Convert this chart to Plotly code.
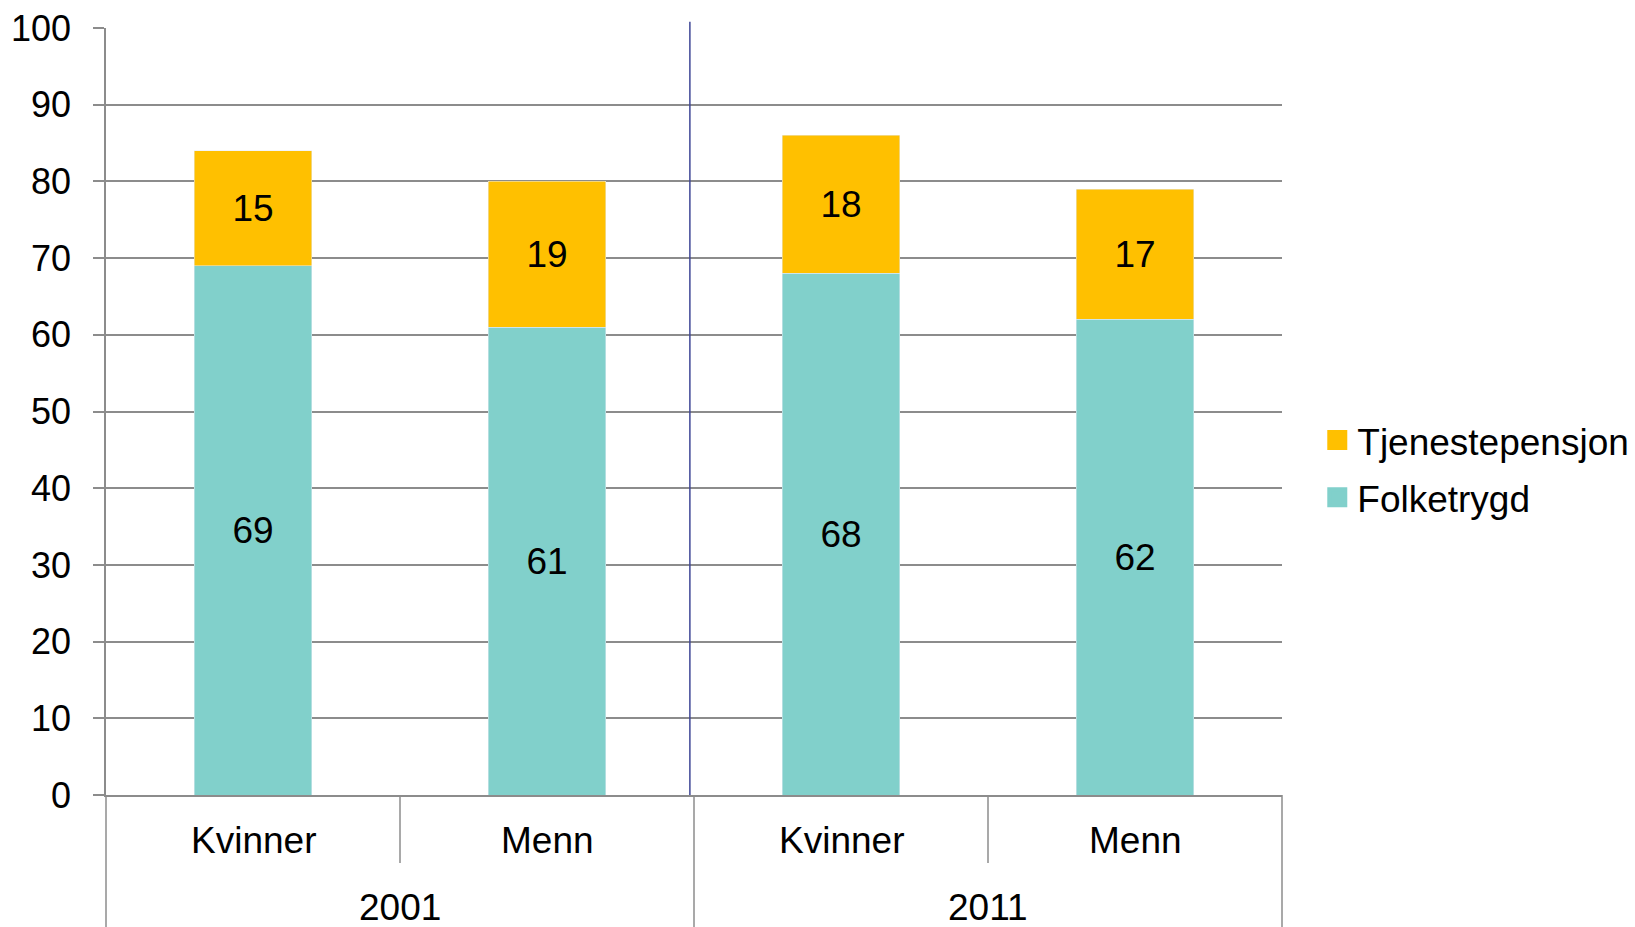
import plotly.graph_objects as go

years = ["2001", "2001", "2011", "2011"]
groups = ["Kvinner", "Menn", "Kvinner", "Menn"]
folketrygd = [69, 61, 68, 62]
tjenestepensjon = [15, 19, 18, 17]
y_ticks = [0, 10, 20, 30, 40, 50, 60, 70, 80, 90, 100]

TEAL = "#81D0CB"
ORANGE = "#FFC000"
GRID = "#8C8C8C"
BLUE = "#3F4796"
FONT = "Liberation Sans, Arial, sans-serif"
FS = 37

x = [years, groups]
n = len(groups)

fig = go.Figure()
for name, vals, col in [("Folketrygd", folketrygd, TEAL),
                        ("Tjenestepensjon", tjenestepensjon, ORANGE)]:
    fig.add_trace(go.Bar(
        x=x, y=vals, name=name, marker_color=col, showlegend=False,
        text=[str(v) for v in vals], textposition="inside",
        insidetextanchor="middle", textangle=0, constraintext="none",
        textfont=dict(size=FS, color="black", family=FONT),
    ))

# legend entries (top to bottom as in the reference)
for name, col in [("Tjenestepensjon", ORANGE), ("Folketrygd", TEAL)]:
    fig.add_trace(go.Scatter(
        x=[None], y=[None], mode="markers", name=name, legendgroup=name,
        marker=dict(symbol="square", size=16, color=col,
                    line=dict(color=col, width=4)),
    ))

shapes = []
annotations = []
# inner separators, group dividers, and the dark blue year divider
for i in range(0, n + 1):
    xp = i / n
    if i == 0 or i == n or years[i] != years[i - 1]:
        shapes.append(dict(type="line", xref="paper", yref="paper",
                           ysizemode="pixel", yanchor=0,
                           x0=xp, x1=xp, y0=0, y1=-140,
                           line=dict(color=GRID, width=1.5)))
        if 0 < i < n:
            shapes.append(dict(type="line", xref="paper", yref="paper",
                               x0=xp - 0.0035, x1=xp - 0.0035, y0=0, y1=1.008,
                               line=dict(color=BLUE, width=1.5)))
    else:
        shapes.append(dict(type="line", xref="paper", yref="paper",
                           ysizemode="pixel", yanchor=0,
                           x0=xp, x1=xp, y0=0, y1=-68,
                           line=dict(color=GRID, width=1.5)))

# category labels
for i, g in enumerate(groups):
    annotations.append(dict(text=g, xref="paper", yref="paper",
                            x=(i + 0.5) / n, y=0, yshift=-45,
                            xanchor="center", yanchor="middle", showarrow=False,
                            font=dict(size=FS, family=FONT, color="black")))
# year labels
for yr in dict.fromkeys(years):
    idx = [i for i, v in enumerate(years) if v == yr]
    annotations.append(dict(text=yr, xref="paper", yref="paper",
                            x=(sum(idx) / len(idx) + 0.5) / n, y=0, yshift=-112,
                            xanchor="center", yanchor="middle", showarrow=False,
                            font=dict(size=FS, family=FONT, color="black")))

fig.update_layout(
    width=1635, height=927,
    margin=dict(l=106, r=353, t=28, b=132, autoexpand=False),
    paper_bgcolor="white", plot_bgcolor="white",
    barmode="stack", bargap=0.6,
    font=dict(family=FONT, size=FS, color="black"),
    showlegend=True,
    legend=dict(
        x=1.03, xanchor="left", y=0.425, yanchor="middle",
        traceorder="grouped", tracegroupgap=6,
        font=dict(size=FS, family=FONT, color="black"),
        bgcolor="rgba(0,0,0,0)",
    ),
    shapes=shapes,
    annotations=annotations,
)
fig.update_xaxes(
    type="multicategory", showline=True, linecolor=GRID, linewidth=1.5,
    showgrid=False, ticks="", showticklabels=False, showdividers=False,
    automargin=False,
)
fig.update_yaxes(
    range=[0, 100], tickvals=y_ticks, showgrid=True, gridcolor=GRID,
    gridwidth=1.5, showline=True, linecolor=GRID, linewidth=1.5,
    ticks="outside", ticklen=11, tickcolor=GRID, tickwidth=1.5,
    ticklabelstandoff=15, automargin=False,
    zeroline=False, tickfont=dict(size=36, family=FONT, color="black"),
)

fig.write_html(
    "out.html",
    config={"displayModeBar": False},
    post_script="document.body.style.margin='0';document.body.style.overflow='hidden';",
)
